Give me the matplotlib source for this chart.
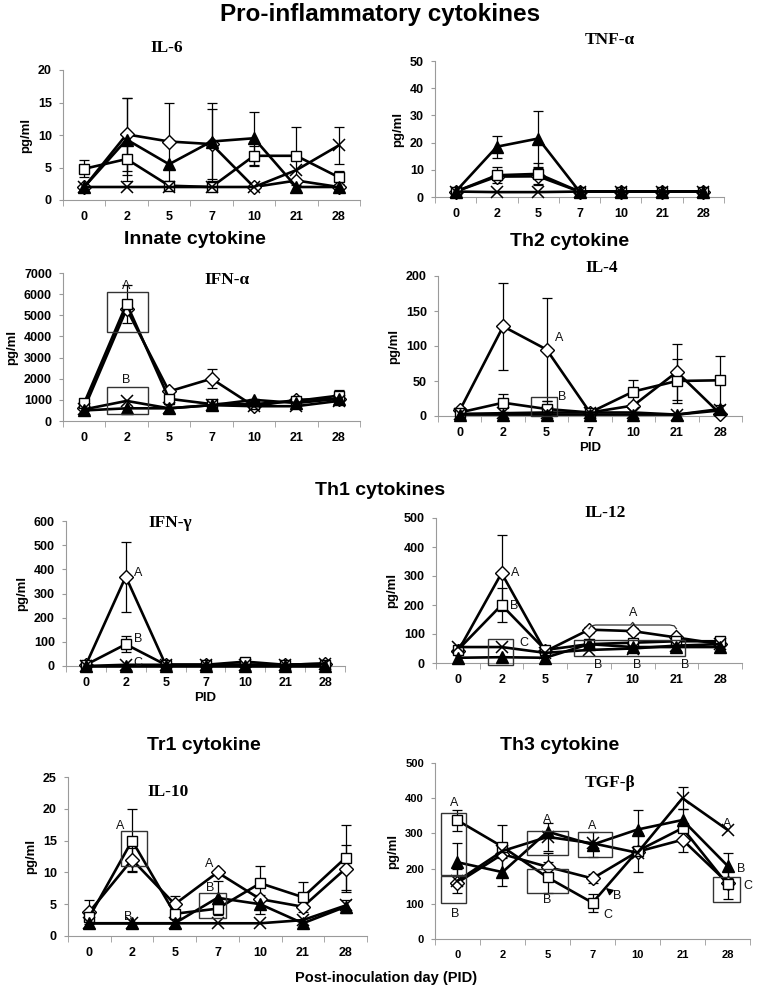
import numpy as np
import matplotlib
matplotlib.use('Agg')
import matplotlib.pyplot as plt
from matplotlib.patches import Rectangle

W, H = 760, 993
SANS = ['Liberation Sans', 'DejaVu Sans']
SERIF = ['Liberation Serif', 'DejaVu Serif']
GREY = '#9a9a9a'

plt.rcParams.update({
    'font.family': SANS,
    'font.size': 9,
})

days = ['0', '2', '5', '7', '10', '21', '28']

# ── IL-6 ─────────────────────────────────────────────────────────────────────
il6_dia = [2, 10.1, 9.0, 8.6, 2, 3.0, 2]
il6_dia_err = [0, 5.6, 6.0, 5.4, 0, 0, 0]
il6_sq = [4.8, 6.3, 2.2, 2, 6.8, 6.8, 3.5]
il6_sq_err = [1.3, 2.5, 0, 0, 1.5, 4.5, 1.0]
il6_tri = [2, 9.3, 5.5, 9.0, 9.5, 2, 2]
il6_tri_err = [0, 6.4, 0, 6.0, 4.1, 0, 0]
il6_x = [2, 2, 2, 2, 2, 4.6, 8.4]
il6_x_err = [0, 0, 0, 0, 0, 0, 2.8]

# ── TNF-alpha ────────────────────────────────────────────────────────────────
tnf_dia = [2, 7.5, 7.6, 2, 2, 2, 2]
tnf_dia_err = [0, 0, 3, 0, 0, 0, 0]
tnf_sq = [2, 8, 8.5, 2, 2, 2, 2]
tnf_sq_err = [0, 3, 4, 0, 0, 0, 0]
tnf_tri = [2, 18.5, 21.5, 2, 2, 2, 2]
tnf_tri_err = [0, 4, 10.3, 0, 0, 0, 0]
tnf_x = [2, 1.8, 1.8, 2, 2, 2, 2]
tnf_x_err = [0, 0, 0, 0, 0, 0, 0]

# ── IFN-alpha ────────────────────────────────────────────────────────────────
ifna_dia = [600, 5300, 1400, 2000, 700, 1000, 1050]
ifna_dia_err = [0, 0, 0, 450, 0, 0, 0]
ifna_sq = [850, 5550, 1050, 800, 800, 950, 1200]
ifna_sq_err = [0, 900, 250, 0, 0, 0, 250]
ifna_tri = [500, 600, 600, 750, 1000, 850, 1050]
ifna_tri_err = [0, 0, 0, 0, 0, 0, 0]
ifna_x = [550, 950, 600, 750, 700, 700, 950]
ifna_x_err = [0, 0, 0, 0, 0, 0, 0]

# ── IL-4 ─────────────────────────────────────────────────────────────────────
il4_dia = [8, 128, 95, 5, 15, 63, 3]
il4_dia_err = [0, 62, 73, 0, 0, 40, 0]
il4_sq = [5, 19, 10, 5, 35, 50, 51]
il4_sq_err = [0, 13, 12, 0, 16, 32, 35]
il4_tri = [2, 2, 2, 2, 2, 2, 10]
il4_tri_err = [0, 0, 0, 0, 0, 0, 0]
il4_x = [3, 4, 5, 5, 5, 2, 8]
il4_x_err = [0, 0, 0, 0, 0, 0, 0]

# ── IFN-gamma ────────────────────────────────────────────────────────────────
ifng_dia = [5, 370, 5, 5, 5, 5, 10]
ifng_dia_err = [0, 145, 0, 0, 0, 0, 0]
ifng_sq = [5, 90, 5, 5, 18, 5, 5]
ifng_sq_err = [0, 33, 0, 0, 0, 0, 0]
ifng_tri = [0, 0, 0, 0, 0, 0, 0]
ifng_tri_err = [0, 0, 0, 0, 0, 0, 0]
ifng_x = [0, 5, 5, 5, 5, 5, 10]
ifng_x_err = [0, 0, 0, 0, 0, 0, 0]

# ── IL-12 ────────────────────────────────────────────────────────────────────
il12_dia = [40, 310, 40, 115, 110, 88, 65]
il12_dia_err = [0, 130, 0, 10, 10, 0, 0]
il12_sq = [45, 200, 45, 65, 70, 75, 75]
il12_sq_err = [0, 58, 0, 0, 0, 0, 0]
il12_tri = [18, 20, 18, 65, 55, 55, 55]
il12_tri_err = [0, 0, 0, 0, 0, 0, 0]
il12_x = [55, 55, 35, 45, 50, 60, 65]
il12_x_err = [0, 0, 0, 0, 0, 0, 0]

# ── IL-10 ────────────────────────────────────────────────────────────────────
il10_dia = [3.8, 12.0, 5.0, 10.0, 5.8, 4.6, 10.6]
il10_dia_err = [1.9, 1.8, 1.3, 0, 0, 0, 3.7]
il10_sq = [3.0, 15.0, 3.5, 4.3, 8.3, 6.1, 12.3]
il10_sq_err = [0, 4.9, 0, 0, 2.7, 2.4, 5.1]
il10_tri = [2, 2, 2, 6.0, 5.0, 2, 4.6]
il10_tri_err = [0, 0, 0, 2.7, 1.5, 0, 1.0]
il10_x = [2, 2, 2, 2, 2, 2.5, 4.8]
il10_x_err = [0, 0, 0, 0, 0, 0, 0]

# ── TGF-beta ─────────────────────────────────────────────────────────────────
tgf_dia = [160, 241, 205, 172, 248, 282, 160]
tgf_dia_err = [0, 0, 40, 12, 0, 35, 0]
tgf_sq = [337, 262, 175, 103, 250, 315, 155]
tgf_sq_err = [30, 0, 45, 25, 0, 0, 40]
tgf_tri = [218, 190, 305, 268, 311, 338, 208]
tgf_tri_err = [55, 40, 0, 35, 55, 30, 35]
tgf_x = [165, 250, 290, 272, 245, 400, 310]
tgf_x_err = [35, 75, 40, 0, 55, 32, 0]

# significance letters (x index, y, letter) and boxes (x0, x1, y0, y1)
ifna_letters = [(1, 6400, 'A'), (1, 1950, 'B')]
ifna_boxes = [(0.54, 1.5, 4200, 6100), (0.54, 1.5, 350, 1600)]
il4_letters = [(2.3, 112, 'A'), (2.35, 27, 'B')]
il4_boxes = [(1.64, 2.23, 0, 27)]
ifng_letters = [(1.3, 385, 'A'), (1.3, 110, 'B'), (1.3, 12, 'C')]
il12_letters = [(1.3, 310, 'A'), (1.3, 195, 'B'), (1.5, 68, 'C'), (4.0, 172, 'A'),
                (3.2, -6, 'B'), (4.1, -6, 'B'), (5.2, -6, 'B')]
il12_boxes = [(0.68, 1.27, -8, 83), (2.65, 5.2, 23, 78)]
il10_letters = [(0.72, 17.3, 'A'), (0.9, 3.0, 'B'), (2.8, 11.3, 'A'), (2.82, 7.6, 'B')]
il10_boxes = [(0.75, 1.36, 11.0, 16.5), (2.57, 3.2, 2.9, 6.7)]
tgf_letters = [(-0.08, 387, 'A'), (-0.05, 72, 'B'), (2.0, 337, 'A'), (2.0, 110, 'B'),
               (3.0, 322, 'A'), (3.35, 68, 'C'), (3.55, 122, 'B'), (6.3, 198, 'B'),
               (6.45, 150, 'C'), (6.0, 327, 'A')]
tgf_boxes = [(-0.36, 0.2, 183, 357), (-0.36, 0.2, 103, 180), (1.55, 2.45, 238, 307),
             (1.55, 2.45, 130, 198), (2.67, 3.44, 233, 304), (5.68, 6.27, 105, 175)]

fig = plt.figure(figsize=(W / 100, H / 100), dpi=100)
fig.patch.set_facecolor('white')


def add_ax(left, right, top, bottom):
    return fig.add_axes([left / W, 1 - bottom / H, (right - left) / W, (bottom - top) / H])


def draw(ax, series, ymax, ystep, title, tpos, tick_fs=9):
    x = np.arange(len(days))
    styles = [('D', 'white', 7, 1.0), ('s', 'white', 7.5, 1.0),
              ('^', 'black', 8, 1.0), ('x', 'none', 8.5, 1.1)]
    for (vals, errs), (mk, fc, ms, mew) in zip(series, styles):
        vals = np.array(vals, float)
        errs = np.array(errs, float)
        m = errs > 0
        if m.any():
            ax.errorbar(x[m], vals[m], yerr=errs[m], fmt='none', ecolor='black',
                        elinewidth=0.9, capsize=3.5, capthick=0.9, zorder=2)
        ax.plot(x, vals, color='black', lw=1.9, marker=mk, ms=ms, mfc=fc,
                mec='black', mew=mew, zorder=3, clip_on=False)
    ax.set_xlim(-0.5, len(days) - 0.5)
    ax.set_ylim(0, ymax)
    ax.set_xticks(x)
    ax.set_xticklabels(days, fontweight='bold', fontsize=tick_fs)
    ax.set_xticks(np.arange(-0.5, len(days), 1), minor=True)
    ax.set_yticks(np.arange(0, ymax + ystep / 2, ystep))
    ax.set_yticklabels([f'{v:g}' for v in np.arange(0, ymax + ystep / 2, ystep)],
                       fontweight='bold', fontsize=tick_fs)
    ax.tick_params(axis='x', which='major', length=0, pad=8)
    ax.tick_params(axis='x', which='minor', length=4, color=GREY, direction='out')
    ax.tick_params(axis='y', length=3, color=GREY, direction='out', pad=5)
    for s in ['top', 'right']:
        ax.spines[s].set_visible(False)
    for s in ['left', 'bottom']:
        ax.spines[s].set_color(GREY)
        ax.spines[s].set_linewidth(0.8)
    ax.set_ylabel('pg/ml', fontweight='bold', fontsize=9.5, labelpad=4)
    fig.text(tpos[0] / W, 1 - tpos[1] / H, title, family=SERIF, fontweight='bold',
             fontsize=12.5, ha='center', va='center')


def marks(ax, letters, boxes=()):
    for (x0, x1, y0, y1) in boxes:
        ax.add_patch(Rectangle((x0, y0), x1 - x0, y1 - y0, fill=False,
                               edgecolor='#333333', lw=1.0, zorder=4, clip_on=False))
    for (xx, yy, t) in letters:
        ax.text(xx, yy, t, fontsize=9, ha='center', va='center', zorder=5,
                color='#111111', clip_on=False)


def header(x, y, t, fs=14):
    fig.text(x / W, 1 - y / H, t, fontweight='bold', fontsize=fs, ha='center', va='center')


# panels
ax1 = add_ax(63, 360, 70, 200)
draw(ax1, [(il6_dia, il6_dia_err), (il6_sq, il6_sq_err), (il6_tri, il6_tri_err),
           (il6_x, il6_x_err)], 20, 5, 'IL-6', (167, 48))

ax2 = add_ax(435, 724, 61, 197)
draw(ax2, [(tnf_dia, tnf_dia_err), (tnf_sq, tnf_sq_err), (tnf_tri, tnf_tri_err),
           (tnf_x, tnf_x_err)], 50, 10, 'TNF-α', (610, 40))

ax3 = add_ax(63, 360, 273, 421)
draw(ax3, [(ifna_dia, ifna_dia_err), (ifna_sq, ifna_sq_err), (ifna_tri, ifna_tri_err),
           (ifna_x, ifna_x_err)], 7000, 1000, 'IFN-α', (227, 280))
marks(ax3, ifna_letters, ifna_boxes)

ax4 = add_ax(438, 742, 276, 416)
draw(ax4, [(il4_dia, il4_dia_err), (il4_sq, il4_sq_err), (il4_tri, il4_tri_err),
           (il4_x, il4_x_err)], 200, 50, 'IL-4', (602, 268))
marks(ax4, il4_letters, il4_boxes)
ax4.set_xlabel('PID', fontweight='bold', fontsize=9.5, labelpad=2)

ax5 = add_ax(66, 345, 521, 666)
draw(ax5, [(ifng_dia, ifng_dia_err), (ifng_sq, ifng_sq_err), (ifng_tri, ifng_tri_err),
           (ifng_x, ifng_x_err)], 600, 100, 'IFN-γ', (170, 523))
marks(ax5, ifng_letters)
ax5.set_xlabel('PID', fontweight='bold', fontsize=9.5, labelpad=2)

ax6 = add_ax(436, 742, 518, 663)
draw(ax6, [(il12_dia, il12_dia_err), (il12_sq, il12_sq_err), (il12_tri, il12_tri_err),
           (il12_x, il12_x_err)], 500, 100, 'IL-12', (605, 513))
marks(ax6, il12_letters, il12_boxes)
# curly bracket over days 7-21
bx = [3.0, 3.05, 3.15, 3.95, 4.0, 4.05, 4.85, 4.95, 5.0]
by = [118, 128, 131, 131, 140, 131, 131, 128, 118]
ax6.plot(bx, by, color='#333333', lw=0.9, zorder=4)

ax7 = add_ax(68, 367, 777, 936)
draw(ax7, [(il10_dia, il10_dia_err), (il10_sq, il10_sq_err), (il10_tri, il10_tri_err),
           (il10_x, il10_x_err)], 25, 5, 'IL-10', (168, 792))
marks(ax7, il10_letters, il10_boxes)

ax8 = add_ax(435, 750, 763, 939)
draw(ax8, [(tgf_dia, tgf_dia_err), (tgf_sq, tgf_sq_err), (tgf_tri, tgf_tri_err),
           (tgf_x, tgf_x_err)], 500, 100, 'TGF-β', (610, 783), tick_fs=8)
marks(ax8, tgf_letters, tgf_boxes)
ax8.annotate('', xy=(3.25, 150), xytext=(3.42, 132),
             arrowprops=dict(arrowstyle='-|>', color='black', lw=1.0, mutation_scale=10))

# section headers
header(380, 15, 'Pro-inflammatory cytokines', fs=17.5)
header(195, 240, 'Innate cytokine')
header(570, 241, 'Th2 cytokine')
header(380, 490, 'Th1 cytokines')
header(204, 745, 'Tr1 cytokine')
header(560, 745, 'Th3 cytokine')
fig.text(386 / W, 1 - 978 / H, 'Post-inoculation day (PID)', fontweight='bold',
         fontsize=10.5, ha='center', va='center')

fig.savefig('out.png', dpi=100, facecolor='white')
